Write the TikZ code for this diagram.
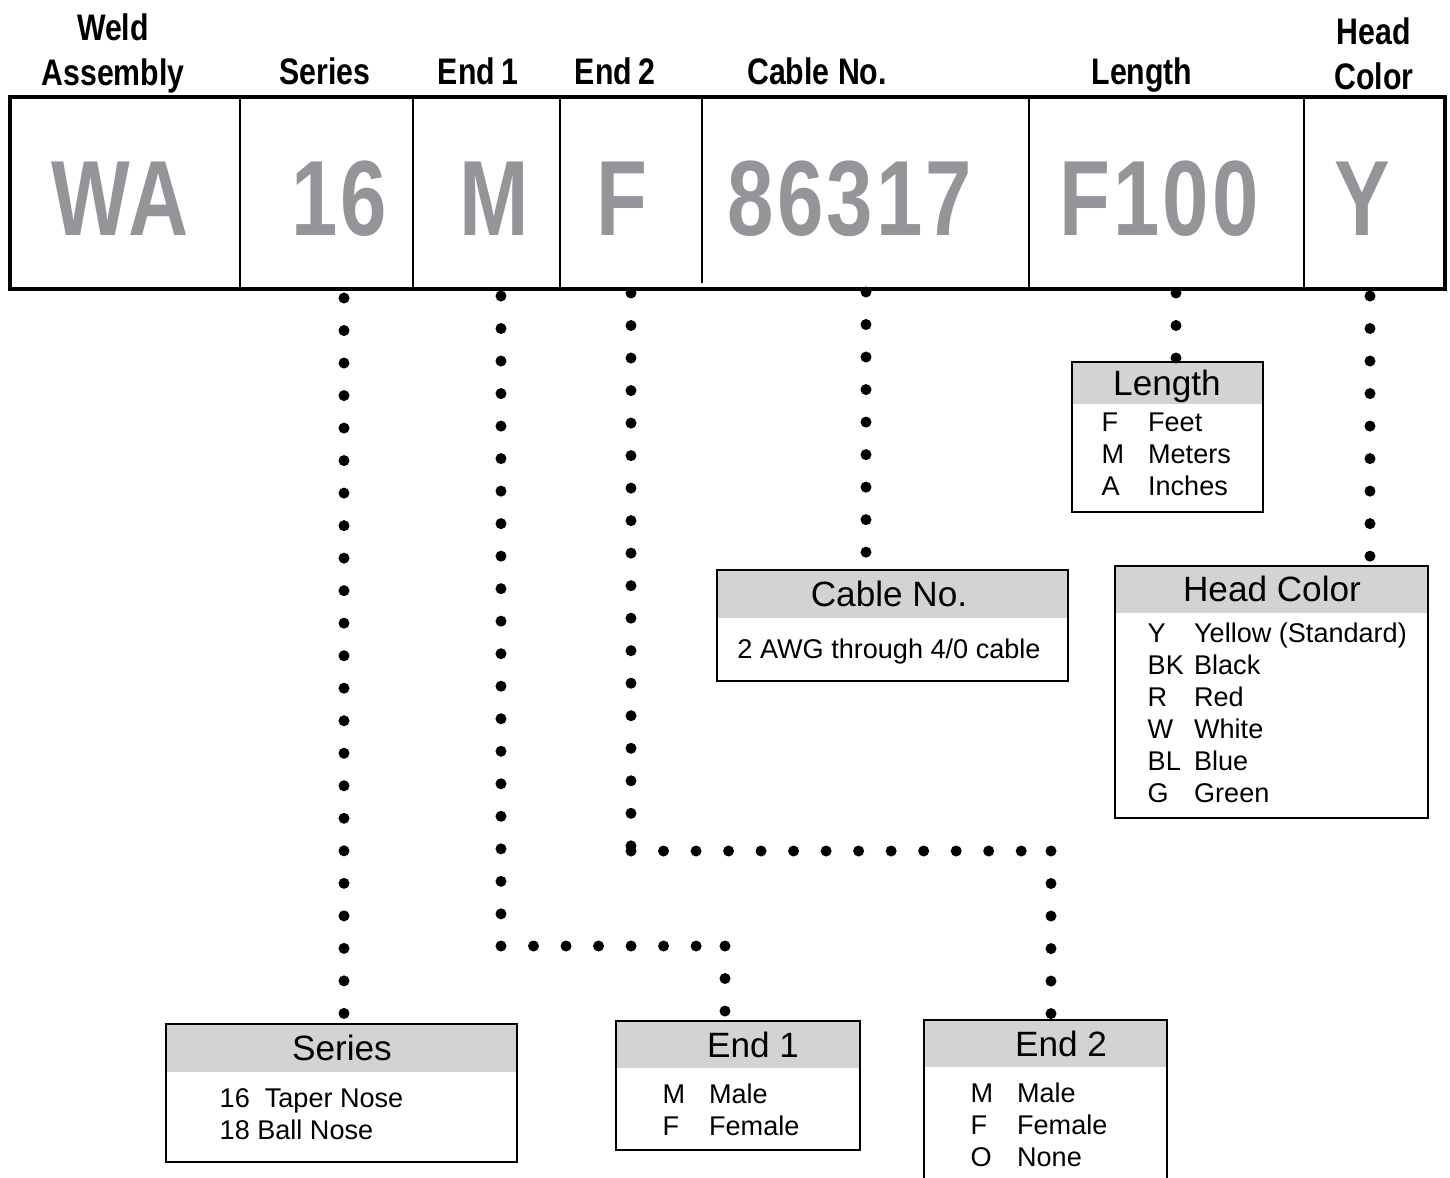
\documentclass[tikz,border=0pt]{standalone}
\usepackage{fontspec}
\setmainfont{Liberation Sans}
\newfontfamily\headfont[FakeStretch=0.82]{Liberation Sans}
\newfontfamily\codefont[FakeStretch=0.78,LetterSpace=3]{Liberation Sans}
\usepackage{tikz}
\usetikzlibrary{positioning, fit, calc}
\definecolor{codegray}{RGB}{147,149,152}
\definecolor{bandgray}{RGB}{209,211,212}

\begin{document}
\begin{tikzpicture}[
  x=0.01cm, y=-0.01cm,
  mainframe/.style={draw, line width=1.15pt},
  divider/.style={draw, line width=0.6pt},
  hdrtxt/.style={font=\headfont\bfseries\fontsize{10.5}{12}\selectfont,
                 anchor=base, inner sep=0pt},
  codetxt/.style={font=\codefont\bfseries\fontsize{30.4}{32}\selectfont,
                  text=codegray, anchor=base, inner sep=0pt},
  legbox/.style={draw, line width=0.6pt, inner sep=0pt},
  hdrband/.style={fill=bandgray},
  ttl/.style={font=\fontsize{10}{12}\selectfont, anchor=base, inner sep=0pt},
  entry/.style={font=\fontsize{7.7}{9.1}\selectfont, anchor=base west, inner sep=0pt},
  dotline/.style={line width=0.11cm, line cap=round, dash pattern=on 0pt off 0.325cm},
]
\clip (0,0) rectangle (1450,1178);

% column captions
\node[hdrtxt] (lWA1) at (113,40)  {Weld};
\node[hdrtxt] (lWA2) at (113,85)  {Assembly};
\node[hdrtxt] (lSer) at (325,84)  {Series};
\node[hdrtxt] (lE1)  at (478,84)  {End\,1};
\node[hdrtxt] (lE2)  at (615,84)  {End\,2};
\node[hdrtxt] (lCab) at (817,84)  {Cable No.};
\node[hdrtxt] (lLen) at (1142,84) {Length};
\node[hdrtxt] (lHc1) at (1374,44) {Head};
\node[hdrtxt] (lHc2) at (1374,89) {Color};

% part number strip
\draw[mainframe] (10,97) rectangle (1445,289);
\foreach \x in {240,413,560,1029,1304}
  \draw[divider] (\x,97) -- (\x,289);
\draw[divider] (702,99) -- (702,283);

\node[codetxt] (kWA)  at (120,235)  {WA};
\node[codetxt] (kSer) at (339,235)  {16};
\node[codetxt] (kE1)  at (494,235)  {M};
\node[codetxt] (kE2)  at (622,235)  {F};
\node[codetxt] (kCab) at (850,235)  {86317};
\node[codetxt] (kLen) at (1159,235) {F100};
\node[codetxt] (kHc)  at (1362,235) {Y};

% Length
\fill[hdrband] (1072,362) rectangle (1263,404);
\node[legbox, fit={(1072,362) (1263,512)}] (bLen) {};
\node[ttl] (tLen) at (1167,395) {Length};
\node[entry] (eLen) at (1101,431)
  {\begin{tabular}[t]{@{}p{13.2pt}@{}l@{}}
   F & Feet\\ M & Meters\\ A & Inches
   \end{tabular}};

% Cable No.
\fill[hdrband] (717,570) rectangle (1068,618);
\node[legbox, fit={(717,570) (1068,681)}] (bCab) {};
\node[ttl] (tCab) at (889,606) {Cable No.};
\node[entry, anchor=base] (eCab) at (889,658) {2 AWG through 4/0 cable};

% Head Color
\fill[hdrband] (1115,566) rectangle (1428,613);
\node[legbox, fit={(1115,566) (1428,818)}] (bHc) {};
\node[ttl] (tHc) at (1272,601) {Head Color};
\node[entry] (eHc) at (1147,642)
  {\begin{tabular}[t]{@{}p{13.2pt}@{}l@{}}
   Y & Yellow (Standard)\\ BK & Black\\ R & Red\\
   W & White\\ BL & Blue\\ G & Green
   \end{tabular}};

% Series
\fill[hdrband] (166,1024) rectangle (517,1072);
\node[legbox, fit={(166,1024) (517,1162)}] (bSer) {};
\node[ttl] (tSer) at (342,1060) {Series};
\node[entry] (eSer) at (219,1107)
  {\begin{tabular}[t]{@{}l@{}}
   16\ \ Taper Nose\\ 18 Ball Nose
   \end{tabular}};

% End 1
\fill[hdrband] (616,1021) rectangle (860,1068);
\node[legbox, fit={(616,1021) (860,1150)}] (bE1) {};
\node[ttl] (tE1) at (753,1057) {End 1};
\node[entry] (eE1) at (662,1103)
  {\begin{tabular}[t]{@{}p{13.2pt}@{}l@{}}
   M & Male\\ F & Female
   \end{tabular}};

% End 2
\fill[hdrband] (924,1020) rectangle (1167,1067);
\node[legbox, fit={(924,1020) (1167,1200)}] (bE2) {};
\node[ttl] (tE2) at (1061,1056) {End 2};
\node[entry] (eE2) at (970,1102)
  {\begin{tabular}[t]{@{}p{13.2pt}@{}l@{}}
   M & Male\\ F & Female\\ O & None
   \end{tabular}};

% dotted leaders
\coordinate (pSer) at (344,298);
\coordinate (pE1)  at (501,296);
\coordinate (qE1)  at (501,946);
\coordinate (rE1)  at (725,946);
\coordinate (pE2)  at (631,293);
\coordinate (qE2)  at (631,851);
\coordinate (rE2)  at (1051,851);
\coordinate (pCab) at (866,292);
\coordinate (pLen) at (1176,293);
\coordinate (pHc)  at (1370,296);

\draw[dotline] (pSer) -- (pSer |- bSer.north);
\draw[dotline] (pE1) -- (qE1);
\draw[dotline] (qE1) -- (rE1);
\draw[dotline] (rE1) -- (rE1 |- bE1.north);
\draw[dotline] (pE2) -- (qE2);
\draw[dotline] (qE2) -- (rE2);
\draw[dotline] (rE2) -- (rE2 |- bE2.north);
\draw[dotline] (pCab) -- (pCab |- bCab.north);
\draw[dotline] (pLen) -- (pLen |- bLen.north);
\draw[dotline] (pHc) -- (pHc |- bHc.north);

\end{tikzpicture}
\end{document}
